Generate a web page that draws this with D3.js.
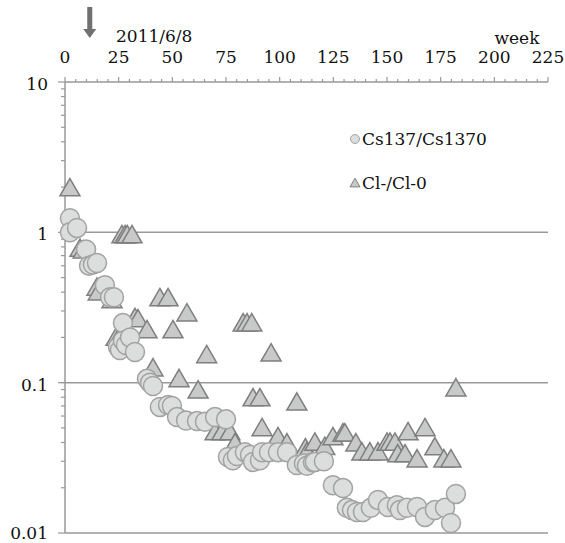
<!DOCTYPE html>
<html>
<head>
<meta charset="utf-8">
<script src="https://d3js.org/d3.v7.min.js"></script>
<style>
  body { margin: 0; background: #fff; }
  svg text { font-family: "DejaVu Serif", "Liberation Serif", serif; font-size: 17px; fill: #111; }
</style>
</head>
<body>
<svg id="chart" width="565" height="543"></svg>
<script>
// week, ratio
var csWeeks = [2.3, 2.3, 5.6, 9.8, 11.2, 13, 14.9, 18.6, 21, 22.8, 24.7, 25.6, 27, 27, 28.4, 30.3, 32.6,
  38.2, 39.6, 41, 44.2, 48, 49.8, 52.2, 56.4, 61.5, 65.2, 69.9, 75,
  75.9, 78.2, 80.1, 83.8, 86.2, 87.6, 90.8, 91.8, 95, 99.2, 103.4, 108, 111.3, 112.7, 115.5, 116.4, 120.6,
  124.8, 129.5, 131.3, 133.7, 136, 138.8, 142.5, 145.8, 150.4, 154.6, 156, 159.3, 164, 167.7, 172.3, 177, 179.8, 182.1];
var csValues = [1.24, 1.0, 1.07, 0.77, 0.6, 0.61, 0.625, 0.445, 0.37, 0.37, 0.173, 0.165, 0.249, 0.19, 0.178, 0.2, 0.16,
  0.106, 0.1, 0.095, 0.069, 0.071, 0.07, 0.059, 0.056, 0.0555, 0.055, 0.059, 0.057,
  0.032, 0.0305, 0.0325, 0.0345, 0.033, 0.0297, 0.0305, 0.0345, 0.0345, 0.0345, 0.0345, 0.0283, 0.029, 0.028, 0.0295, 0.0297, 0.030,
  0.0208, 0.0199, 0.0147, 0.0142, 0.0138, 0.0138, 0.0147, 0.0166, 0.0149, 0.0153, 0.0142, 0.0147, 0.0149, 0.0128, 0.0142, 0.0147, 0.01165, 0.0182];

var clWeeks = [2.3, 7, 8.5, 14.9, 15.5, 21.9, 23.8, 25.6, 26.5, 28, 29, 31.2, 32.6, 34, 38.2, 41, 44.2, 48, 50.3, 53.1, 56.8, 62, 66,
  69.9, 73.1, 76.8, 79.2, 83, 84.8, 87, 87.6, 90.8, 91.8, 96, 99.2, 103.4, 108, 112, 112.7, 116.4, 121, 124.8, 129.5, 130.4,
  135.5, 138.3, 142, 145.8, 150, 151.4, 153.7, 155, 158.4, 159.8, 164, 167.7, 172.3, 176.5, 179.8, 182.1];
var clValues = [1.97, 0.78, 0.76, 0.43, 0.40, 0.355, 0.2, 0.205, 0.96, 0.96, 0.96, 0.96, 0.27, 0.265, 0.224, 0.125, 0.366, 0.366, 0.224, 0.106, 0.29, 0.089, 0.153,
  0.047, 0.047, 0.047, 0.0396, 0.249, 0.249, 0.249, 0.079, 0.079, 0.050, 0.157, 0.0435, 0.0396, 0.074, 0.0367, 0.0345, 0.040, 0.0375, 0.0435, 0.0462, 0.0462,
  0.0396, 0.0345, 0.0345, 0.0345, 0.040, 0.040, 0.040, 0.0335, 0.0335, 0.047, 0.031, 0.050, 0.0373, 0.031, 0.031, 0.092];

var xTicks = [0, 25, 50, 75, 100, 125, 150, 175, 200, 225];
var yTicks = [0.01, 0.1, 1, 10];
var yTickLabels = ["0.01", "0.1", "1", "10"];
var seriesNames = ["Cs137/Cs1370", "Cl-/Cl-0"];
var arrowWeek = 12;
var arrowLabel = "2011/6/8";
var xTitle = "week";

var svg = d3.select("#chart");

var x = d3.scaleLinear().domain([0, 225]).range([65, 548]);
var y = d3.scaleLog().domain([0.01, 10]).range([533, 82]);

var axisColor = "#999";

// horizontal grid lines (1, 0.1, 0.01)
svg.append("g").selectAll("line")
  .data(yTicks.filter(function(d) { return d < 10; }))
  .enter().append("line")
    .attr("x1", x(0)).attr("x2", x(225))
    .attr("y1", function(d) { return y(d); })
    .attr("y2", function(d) { return y(d); })
    .attr("stroke", axisColor).attr("stroke-width", 1.5);

// top x axis
var xMinor = d3.range(0, 226, 5);
svg.append("line")
  .attr("x1", x(0)).attr("x2", x(225)).attr("y1", y(10)).attr("y2", y(10))
  .attr("stroke", axisColor).attr("stroke-width", 1.5);
svg.append("g").selectAll("line")
  .data(xMinor)
  .enter().append("line")
    .attr("x1", function(d) { return x(d); })
    .attr("x2", function(d) { return x(d); })
    .attr("y1", y(10))
    .attr("y2", function(d) { return y(10) - (d % 25 === 0 ? 5 : 3); })
    .attr("stroke", axisColor).attr("stroke-width", 1.2);
svg.append("g").selectAll("text")
  .data(xTicks)
  .enter().append("text")
    .attr("x", function(d) { return x(d); })
    .attr("y", 63)
    .attr("text-anchor", "middle")
    .text(function(d) { return d; });

// left y axis
var yMinor = [];
[0.01, 0.1, 1].forEach(function(base) {
  for (var k = 1; k <= 10; k++) yMinor.push(base * k);
});
svg.append("line")
  .attr("x1", x(0)).attr("x2", x(0)).attr("y1", y(10)).attr("y2", y(0.01))
  .attr("stroke", axisColor).attr("stroke-width", 1.5);
svg.append("g").selectAll("line")
  .data(yMinor)
  .enter().append("line")
    .attr("x1", x(0))
    .attr("x2", function(d, i) { return x(0) - (i % 10 === 0 || i === yMinor.length - 1 ? 7 : 4); })
    .attr("y1", function(d) { return y(d); })
    .attr("y2", function(d) { return y(d); })
    .attr("stroke", axisColor).attr("stroke-width", 1.2);
svg.append("g").selectAll("text")
  .data(yTicks)
  .enter().append("text")
    .attr("x", 48)
    .attr("y", function(d) { return Math.min(y(d) + 8, 539); })
    .attr("text-anchor", "end")
    .text(function(d, i) { return yTickLabels[i]; });

// axis annotations
svg.append("text").attr("x", 517).attr("y", 44).attr("text-anchor", "middle").text(xTitle);
svg.append("text").attr("x", 116).attr("y", 42).text(arrowLabel);

var ax = x(arrowWeek) - 1;
svg.append("rect").attr("x", ax - 2.5).attr("y", 7).attr("width", 5).attr("height", 25).attr("fill", "#707070");
svg.append("path")
  .attr("d", "M" + (ax - 6.5) + ",29L" + (ax + 6.5) + ",29L" + ax + ",38Z")
  .attr("fill", "#707070");

// Cl triangles
var triSize = 20;
function triPath(cx, cy, s) {
  var h = s * 0.866;
  return "M" + cx + "," + (cy - h * 0.55) + "L" + (cx + s / 2) + "," + (cy + h * 0.45) +
    "L" + (cx - s / 2) + "," + (cy + h * 0.45) + "Z";
}
var clData = clWeeks.map(function(w, i) { return [w, clValues[i]]; });
svg.append("g").selectAll("path")
  .data(clData)
  .enter().append("path")
    .attr("d", function(d) { return triPath(x(d[0]), y(d[1]), triSize); })
    .attr("fill", "#c8c9c9")
    .attr("stroke", "#7f7f7f")
    .attr("stroke-width", 1.5);

// Cs circles
var csData = csWeeks.map(function(w, i) { return [w, csValues[i]]; });
svg.append("g").selectAll("circle")
  .data(csData)
  .enter().append("circle")
    .attr("cx", function(d) { return x(d[0]); })
    .attr("cy", function(d) { return y(d[1]); })
    .attr("r", 9.5)
    .attr("fill", "#dcdddd")
    .attr("stroke", "#a3a3a3")
    .attr("stroke-width", 1.5);

// legend
var lg = svg.append("g");
lg.append("circle").attr("cx", 355).attr("cy", 139).attr("r", 4.5)
  .attr("fill", "#dcdddd").attr("stroke", "#a3a3a3").attr("stroke-width", 1);
lg.append("text").attr("x", 362).attr("y", 145).text(seriesNames[0]);
lg.append("path").attr("d", triPath(355, 183, 10))
  .attr("fill", "#c8c9c9").attr("stroke", "#7f7f7f").attr("stroke-width", 1);
lg.append("text").attr("x", 362).attr("y", 189).text(seriesNames[1]);
</script>
</body>
</html>
